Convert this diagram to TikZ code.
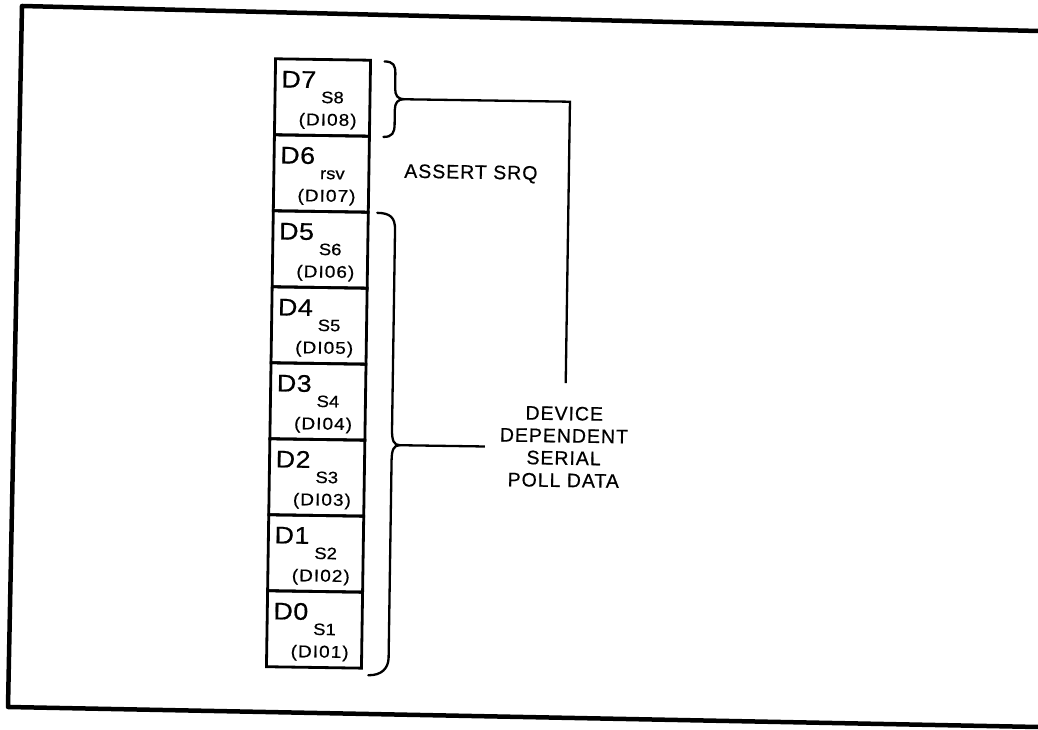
\documentclass[tikz,border=0pt]{standalone}
\usepackage{fontspec}
\setmainfont{Liberation Sans}[FakeBold=0.6]
\newfontfamily\wfont{Liberation Sans}[FakeStretch=1.12, FakeBold=0.6]
\begin{document}
\begin{tikzpicture}[x=1pt,y=1pt,
  frame/.style={line width=4.5pt, line join=round, line cap=round},
  cell/.style={draw, line width=2.8pt, minimum width=95pt, minimum height=76pt, inner sep=0pt, outer sep=0pt},
  dlab/.style={anchor=base west, inner sep=0pt, font=\wfont\fontsize{24}{24}\selectfont\addfontfeature{LetterSpace=2}},
  slab/.style={anchor=base west, inner sep=0pt, font=\wfont\fontsize{16.5}{16.5}\selectfont},
  plab/.style={anchor=base, inner sep=0pt, font=\wfont\fontsize{17}{17}\selectfont\addfontfeature{LetterSpace=6}},
  brace/.style={line width=2.3pt, line cap=round, line join=round},
  conn/.style={line width=2.3pt},
  txt/.style={font=\fontsize{19.5}{22.3}\selectfont\addfontfeature{LetterSpace=5}, align=center, inner sep=0pt}]
\useasboundingbox (0,0) rectangle (1038,730);
% outer frame (scanned, slightly skewed)
\draw[frame] (1038,699) -- (22,724) -- (8,23) -- (1038,3);
\begin{scope}[rotate around={-0.86:(420,365)}, transform shape]
  \foreach \k/\d/\s/\p in {0/7/S8/08, 1/6/rsv/07, 2/5/S6/06, 3/4/S5/05, 4/3/S4/04, 5/2/S3/03, 6/1/S2/02, 7/0/S1/01}{
    \node[cell] (b\d) at (318.5, 631-76*\k) {};
    \node[dlab] (d\d) at ([xshift=6pt, yshift=-28.5pt]b\d.north west) {D\d};
    \node[slab] (s\d) at ([xshift=46pt, yshift=-43.5pt]b\d.north west) {\s};
    \node[plab] (p\d) at ([xshift=53pt, yshift=-66pt]b\d.north west) {(DI\p)};
  }
  % upper brace (D7)
  \coordinate (t1) at (400,630.5);
  \draw[brace] (380,668) .. controls (389,668) and (391,664) .. (391,656) -- (391,641)
     .. controls (391,634) and (394,630.5) .. (t1)
     .. controls (394,630.5) and (391,627) .. (391,620) -- (391,605)
     .. controls (391,597) and (389,592.5) .. (380,592.5);
  % lower brace (D5..D0)
  \coordinate (t2) at (401,284.5);
  \draw[brace] (375,516.5) .. controls (388,516.5) and (393,512) .. (393,500) -- (393,300)
     .. controls (393,289) and (395,284.5) .. (t2)
     .. controls (395,284.5) and (393,280) .. (393,269) -- (393,72)
     .. controls (393,61) and (386,54) .. (373,54);
  % labels
  \node[txt, anchor=base] (srq) at (468,552) {ASSERT SRQ};
  \node[txt, anchor=base] (ddd) at (565,245.1) {DEVICE\\DEPENDENT\\SERIAL\\POLL DATA};
  % connectors
  \coordinate (srqend) at (566,349);
  \coordinate (dddend) at (486,284.5);
  \draw[conn] (t1) -- (566,630.5) -- (srqend);
  \draw[conn] (t2) -- (dddend);
\end{scope}
\end{tikzpicture}
\end{document}
